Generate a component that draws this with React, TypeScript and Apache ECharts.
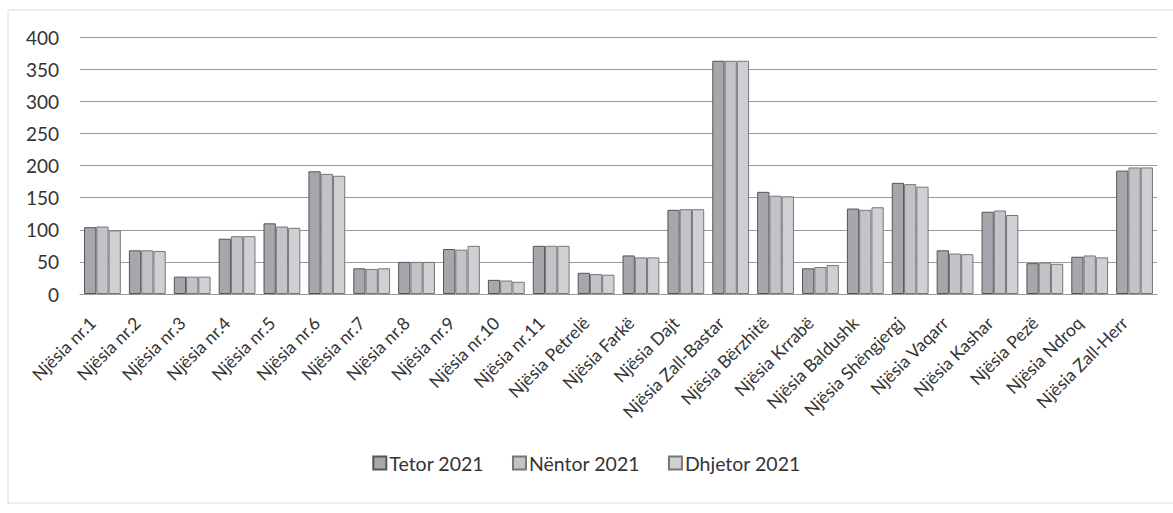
import React, { useEffect, useRef } from "react";
import * as echarts from "echarts";

const categories = [
  "Njësia nr.1", "Njësia nr.2", "Njësia nr.3", "Njësia nr.4", "Njësia nr.5", "Njësia nr.6",
  "Njësia nr.7", "Njësia nr.8", "Njësia nr.9", "Njësia nr.10", "Njësia nr.11", "Njësia Petrelë",
  "Njësia Farkë", "Njësia Dajt", "Njësia Zall-Bastar", "Njësia Bërzhitë", "Njësia Krrabë",
  "Njësia Baldushk", "Njësia Shëngjergj", "Njësia Vaqarr", "Njësia Kashar", "Njësia Pezë",
  "Njësia Ndroq", "Njësia Zall-Herr",
];
const tetor = [104, 68, 27, 86, 110, 191, 40, 50, 70, 22, 75, 33, 60, 131, 363, 159, 40, 133, 173, 68, 128, 48, 58, 192];
const nentor = [105, 68, 27, 90, 105, 187, 39, 50, 69, 21, 75, 31, 57, 132, 363, 153, 42, 131, 171, 63, 130, 49, 60, 197];
const dhjetor = [99, 67, 27, 90, 103, 184, 40, 50, 75, 19, 75, 30, 57, 132, 363, 152, 45, 135, 167, 62, 123, 47, 57, 197];
const seriesNames = ["Tetor 2021", "Nëntor 2021", "Dhjetor 2021"];
const yTicks = [0, 50, 100, 150, 200, 250, 300, 350, 400];

export default function App() {
  const ref = useRef<HTMLDivElement>(null);
  useEffect(() => {
    document.body.style.margin = "0";
    const chart = echarts.init(ref.current!, null, { renderer: "svg" });
    const font = "Lato, 'Open Sans', sans-serif";
    const fills = ["#a6a6ad", "#c2c2c8", "#cfcfd4"];
    const datas = [tetor, nentor, dhjetor];
    chart.setOption({
      animation: false,
      backgroundColor: "#ffffff",
      textStyle: { fontFamily: font },
      grid: { left: 80, right: 16, top: 37, bottom: 219, containLabel: false },
      legend: {
        bottom: 35,
        left: "center",
        itemWidth: 13,
        itemHeight: 13,
        itemGap: 28,
        icon: "rect",
        textStyle: { fontSize: 19.5, color: "#333", fontFamily: font, padding: [0, 0, 0, -2] },
        data: seriesNames,
      },
      xAxis: {
        type: "category",
        data: categories,
        axisTick: { show: false },
        axisLine: { lineStyle: { color: "#999" } },
        axisLabel: {
          rotate: 45,
          fontSize: 17.5,
          color: "#333",
          margin: 16,
          padding: [0, 14, 0, 0],
          interval: 0,
          fontFamily: font,
        },
      },
      yAxis: {
        type: "value",
        min: yTicks[0],
        max: yTicks[yTicks.length - 1],
        interval: 50,
        axisLine: { show: false },
        axisTick: { show: false },
        axisLabel: { fontSize: 19, color: "#333", margin: 21, fontFamily: font },
        splitLine: { lineStyle: { color: "#9a9a9a", width: 1 } },
      },
      series: seriesNames.map((name, i) => ({
        name,
        type: "bar",
        data: datas[i],
        barGap: "0%",
        barCategoryGap: "18%",
        itemStyle: { color: fills[i], borderColor: i === 0 ? "#555" : "#777", borderWidth: 1 },
      })),
      graphic: [
        {
          type: "rect",
          shape: { x: 8, y: 10, width: 1200, height: 493 },
          style: { fill: "none", stroke: "#dcdcdc", lineWidth: 1 },
          silent: true,
        },
      ],
    });
    return () => chart.dispose();
  }, []);
  return <div ref={ref} style={{ width: 1173, height: 513 }} />;
}
